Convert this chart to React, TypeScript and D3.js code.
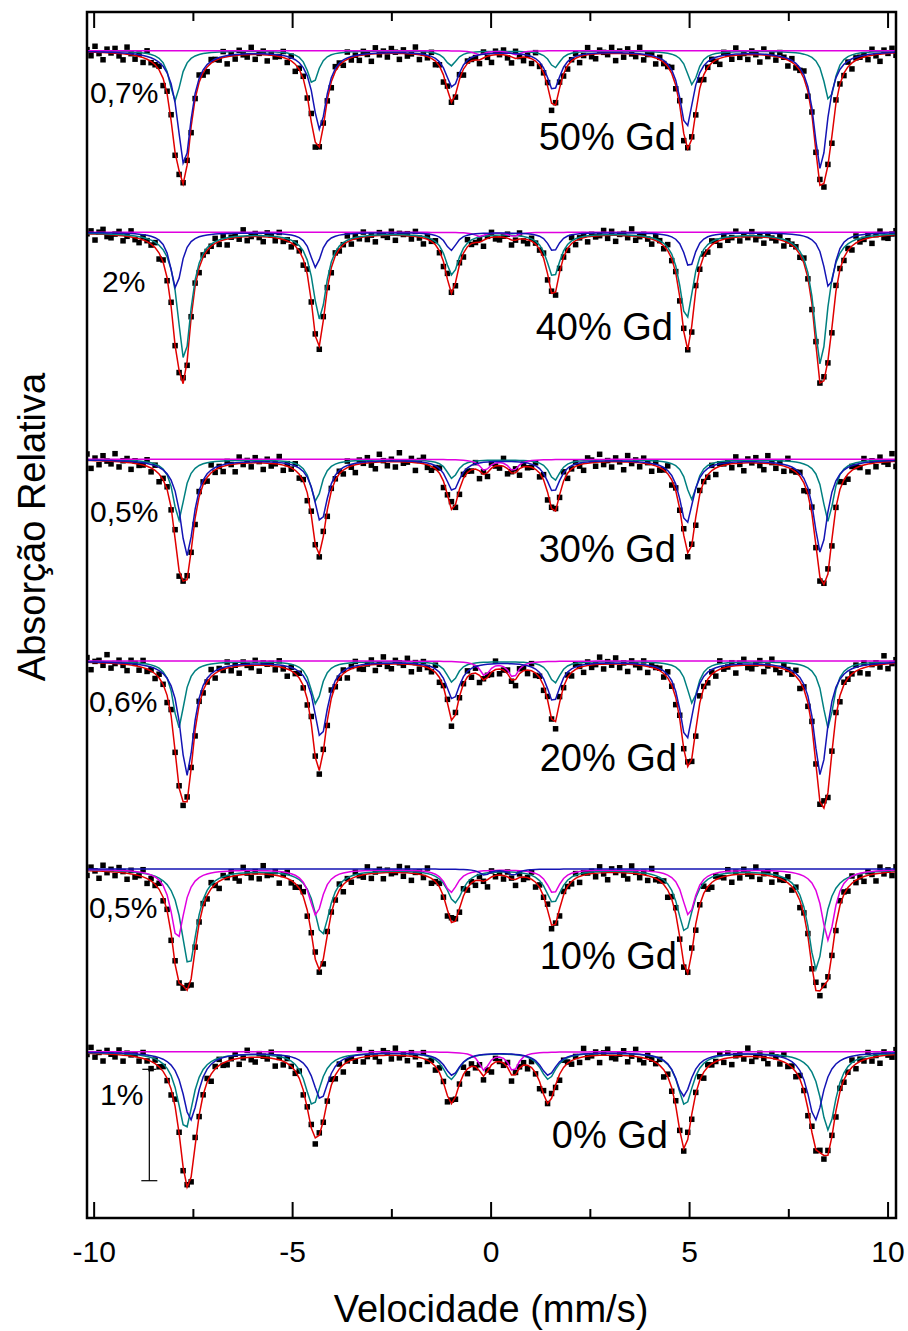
import React from "react";
import * as d3 from "d3";

// ---------- data ----------
const SAMPLES = ["50% Gd", "40% Gd", "30% Gd", "20% Gd", "10% Gd", "0% Gd"];
const SCALE_LABELS = ["0,7%", "2%", "0,5%", "0,6%", "0,5%", "1%"];

const X_TICKS_MAJOR = [-10, -5, 0, 5, 10];
const X_TICKS_MINOR = [-7.5, -2.5, 2.5, 7.5];
const X_TICK_LABELS = ["-10", "-5", "0", "5", "10"];

// baseline of each spectrum (stacked, arbitrary absorption units)
const BASELINES = [11.673, 9.857, 7.587, 5.57, 3.49, 1.663];

// blue component (sextet, except 10% where it is the central doublet)
const BLUE_POS = [
  [-7.73, -4.32, -0.97, 1.57, 4.92, 8.3],
  [-7.94, -4.42, -1.01, 1.57, 5.0, 8.52],
  [-7.66, -4.29, -0.96, 1.57, 4.92, 8.3],
  [-7.66, -4.29, -0.96, 1.57, 4.92, 8.3],
  [-0.16, 0.56],
  [-7.57, -4.29, -0.98, 1.44, 4.85, 8.17],
];
const BLUE_DEPTH = [
  [1.14, 0.78, 0.36, 0.39, 0.76, 1.18],
  [0.56, 0.35, 0.18, 0.19, 0.35, 0.56],
  [0.96, 0.62, 0.31, 0.32, 0.64, 0.93],
  [1.14, 0.76, 0.38, 0.4, 0.78, 1.14],
  [0.06, 0.06],
  [0.68, 0.47, 0.23, 0.23, 0.44, 0.68],
];
const BLUE_HWHM = [0.21, 0.17, 0.21, 0.21, 0.15, 0.24];

// teal component (sextet)
const TEAL_POS = [
  [-7.96, -4.49, -1.01, 1.6, 5.07, 8.52],
  [-7.73, -4.32, -0.98, 1.57, 4.92, 8.3],
  [-7.87, -4.41, -0.98, 1.6, 5.05, 8.49],
  [-7.87, -4.41, -0.98, 1.6, 5.07, 8.49],
  [-7.61, -4.26, -0.91, 1.57, 4.89, 8.19],
  [-7.7, -4.49, -1.01, 1.44, 4.89, 8.49],
];
const TEAL_DEPTH = [
  [0.5, 0.33, 0.15, 0.17, 0.34, 0.5],
  [1.27, 0.86, 0.42, 0.44, 0.86, 1.32],
  [0.61, 0.42, 0.19, 0.21, 0.4, 0.62],
  [0.67, 0.43, 0.21, 0.22, 0.42, 0.67],
  [0.96, 0.65, 0.33, 0.33, 0.62, 1.0],
  [0.77, 0.53, 0.27, 0.27, 0.53, 0.78],
];
const TEAL_HWHM = [0.17, 0.21, 0.17, 0.17, 0.24, 0.24];

// magenta component (central doublet, except 10% where it is a sextet)
const MAGENTA_POS = [
  [-0.29, 0.62],
  [-0.29, 0.56],
  [-0.16, 0.56],
  [-0.16, 0.56],
  [-7.9, -4.41, -1.01, 1.57, 4.98, 8.49],
  [-0.18, 0.56],
];
const MAGENTA_DEPTH = [
  [0.04, 0.04],
  [0.04, 0.04],
  [0.11, 0.11],
  [0.14, 0.16],
  [0.7, 0.46, 0.23, 0.24, 0.46, 0.71],
  [0.18, 0.19],
];
const MAGENTA_HWHM = [0.15, 0.15, 0.15, 0.15, 0.2, 0.15];

// scatter of measured counts around the fit (hundredths of a unit)
const RESIDUALS = [
  2, -3, 5, -1, -6, 3, 0, 4, -2, -5, 6, 1, -3, 2, -4, 7, -1, 0, 3, -6, 2, 5, -2, -3, 1,
  4, -5, 0, 6, -2, -4, 3, 1, -1, 5, -6, 2, -3, 4, 0, -2, 6, -4, 1, 3, -5, 2, -1, 0, 5,
  -3, 4, -6, 1, 2, -2, 7, -4, 0, 3, -1, -5, 4, 2, -3, 6, -2, 1, -4, 3, 0, -6, 5, -1, 2,
  -3, 4, 1, -5, 3, -2, 0, 6, -4, 2, -1, 5, -3, 1, -6, 3, 0, -2, 4, -5, 2, 1,
];
const NOISE = [1.2, 1.0, 1.3, 1.2, 1.2, 1.2];
const CHANNELS = 202;

// 1% scale bar (in the 0% Gd spectrum)
const BAR_V = -8.61;
const BAR_TOP = 1.487;
const BAR_BOTTOM = 0.373;

// ---------- layout ----------
const W = 908;
const H = 1331;
const M = { left: 87, right: 896, top: 12, bottom: 1218 };
const V_DOMAIN: [number, number] = [-10.18, 10.2];
const Y_DOMAIN: [number, number] = [0, 12.06];

const C_RED = "#e00000";
const C_BLUE = "#1414b4";
const C_TEAL = "#008080";
const C_MAG = "#e000e0";
const FONT = "'Liberation Sans', Arial, Helvetica, sans-serif";

const SAMPLE_LABEL_POS = [
  { x: 676, y: 150 },
  { x: 673, y: 340 },
  { x: 676, y: 562 },
  { x: 677, y: 771 },
  { x: 677, y: 969 },
  { x: 668, y: 1148 },
];
const SCALE_LABEL_POS = [
  { x: 90, y: 103 },
  { x: 102, y: 292 },
  { x: 90, y: 522 },
  { x: 89, y: 712 },
  { x: 89, y: 918 },
  { x: 100, y: 1105 },
];

function lorentzSum(v: number, pos: number[], depth: number[], w: number) {
  let s = 0;
  for (let i = 0; i < pos.length; i++) {
    const t = (v - pos[i]) / w;
    s += depth[i] / (1 + t * t);
  }
  return s;
}

export default function App() {
  const x = d3.scaleLinear().domain(V_DOMAIN).range([M.left, M.right]);
  const y = d3.scaleLinear().domain(Y_DOMAIN).range([M.bottom, M.top]);
  const step = (V_DOMAIN[1] - V_DOMAIN[0]) / CHANNELS;
  const vel = d3.range(CHANNELS + 1).map((i) => V_DOMAIN[0] + i * step);

  const line = d3
    .line<[number, number]>()
    .x((d) => x(d[0]))
    .y((d) => y(d[1]));

  const spectra = SAMPLES.map((name, k) => {
    const base = BASELINES[k];
    const blue = (v: number) => lorentzSum(v, BLUE_POS[k], BLUE_DEPTH[k], BLUE_HWHM[k]);
    const teal = (v: number) => lorentzSum(v, TEAL_POS[k], TEAL_DEPTH[k], TEAL_HWHM[k]);
    const mag = (v: number) => lorentzSum(v, MAGENTA_POS[k], MAGENTA_DEPTH[k], MAGENTA_HWHM[k]);
    const total = (v: number) => base - blue(v) - teal(v) - mag(v);
    const pts = vel.map((v, i) => {
      const r = RESIDUALS[(i + k * 17) % RESIDUALS.length] * 0.01 * NOISE[k];
      return [v, total(v) + r] as [number, number];
    });
    return {
      name,
      pts,
      red: line(vel.map((v) => [v, total(v)] as [number, number])) || "",
      blue: line(vel.map((v) => [v, base - blue(v)] as [number, number])) || "",
      teal: line(vel.map((v) => [v, base - teal(v)] as [number, number])) || "",
      mag: line(vel.map((v) => [v, base - mag(v)] as [number, number])) || "",
    };
  });

  const ps = 5.5;

  return (
    <svg
      width={W}
      height={H}
      style={{ position: "absolute", left: 0, top: 0, display: "block", background: "#fff" }}
      fontFamily={FONT}
    >
      <defs>
        <clipPath id="plotclip">
          <rect x={M.left} y={M.top} width={M.right - M.left} height={M.bottom - M.top} />
        </clipPath>
      </defs>
      <rect x={0} y={0} width={W} height={H} fill="#fff" />

      <g clipPath="url(#plotclip)">
        {spectra.map((s, k) => (
          <g key={k}>
            {s.pts.map((p, i) => (
              <rect
                key={i}
                x={x(p[0]) - ps / 2}
                y={y(p[1]) - ps / 2}
                width={ps}
                height={ps}
                fill="#000"
              />
            ))}
            <path d={s.red} fill="none" stroke={C_RED} strokeWidth={1.5} />
            <path d={s.teal} fill="none" stroke={C_TEAL} strokeWidth={1.5} />
            <path d={s.mag} fill="none" stroke={C_MAG} strokeWidth={1.5} />
            <path d={s.blue} fill="none" stroke={C_BLUE} strokeWidth={1.5} />
          </g>
        ))}
      </g>

      {/* scale bar */}
      <g stroke="#000" strokeWidth={1.2}>
        <line x1={x(BAR_V)} x2={x(BAR_V)} y1={y(BAR_TOP)} y2={y(BAR_BOTTOM)} />
        <line x1={x(BAR_V) - 7} x2={x(BAR_V) + 7} y1={y(BAR_TOP)} y2={y(BAR_TOP)} />
        <line x1={x(BAR_V) - 8} x2={x(BAR_V) + 8} y1={y(BAR_BOTTOM)} y2={y(BAR_BOTTOM)} />
      </g>

      {/* labels */}
      {SAMPLES.map((t, k) => (
        <text
          key={"s" + k}
          x={SAMPLE_LABEL_POS[k].x}
          y={SAMPLE_LABEL_POS[k].y}
          fontSize={38}
          textAnchor="end"
          fill="#000"
        >
          {t}
        </text>
      ))}
      {SCALE_LABELS.map((t, k) => (
        <text
          key={"p" + k}
          x={SCALE_LABEL_POS[k].x}
          y={SCALE_LABEL_POS[k].y}
          fontSize={30}
          fill="#000"
        >
          {t}
        </text>
      ))}

      {/* frame */}
      <rect
        x={M.left}
        y={M.top}
        width={M.right - M.left}
        height={M.bottom - M.top}
        fill="none"
        stroke="#000"
        strokeWidth={2.5}
      />
      {/* ticks */}
      <g stroke="#000" strokeWidth={2}>
        {X_TICKS_MAJOR.map((t) => (
          <g key={"M" + t}>
            <line x1={x(t)} x2={x(t)} y1={M.bottom} y2={M.bottom - 16} />
            <line x1={x(t)} x2={x(t)} y1={M.top} y2={M.top + 16} />
          </g>
        ))}
        {X_TICKS_MINOR.map((t) => (
          <g key={"m" + t}>
            <line x1={x(t)} x2={x(t)} y1={M.bottom} y2={M.bottom - 9} />
            <line x1={x(t)} x2={x(t)} y1={M.top} y2={M.top + 9} />
          </g>
        ))}
      </g>
      {X_TICKS_MAJOR.map((t, i) => (
        <text key={"l" + t} x={x(t)} y={1262} fontSize={30} textAnchor="middle" fill="#000">
          {X_TICK_LABELS[i]}
        </text>
      ))}

      <text x={491} y={1322} fontSize={38} textAnchor="middle" fill="#000">
        Velocidade (mm/s)
      </text>
      <text
        transform="translate(45,527) rotate(-90)"
        fontSize={38}
        textAnchor="middle"
        fill="#000"
      >
        Absorção Relativa
      </text>
    </svg>
  );
}
